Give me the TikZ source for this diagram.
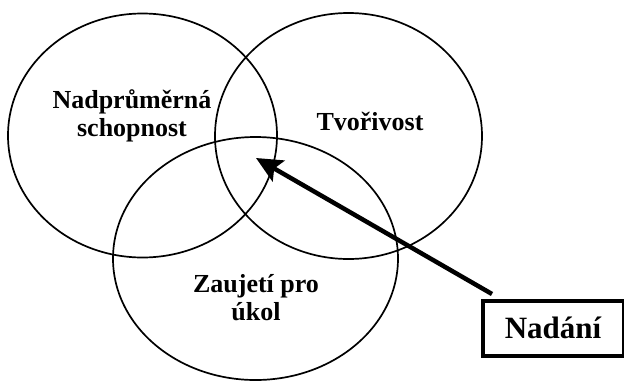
\documentclass[tikz,border=0pt]{standalone}
\usepackage{fontspec}
\setmainfont{Liberation Serif}
\usetikzlibrary{arrows.meta}
\begin{document}
\begin{tikzpicture}[x=1pt,y=-1pt,
  ring/.style={line width=1.7pt},
  lbl/.style={font=\fontsize{26}{28}\selectfont\bfseries, align=center, inner sep=0pt},
  boxlbl/.style={draw, line width=4pt, font=\fontsize{31}{34}\selectfont\bfseries, minimum width=141pt, minimum height=55pt, inner sep=0pt},
  bigarrow/.style={line width=4.5pt, -{Stealth[length=26pt,width=24pt,inset=5pt]}}]
\useasboundingbox (0,0) rectangle (624,381);
\draw[ring] (142.5,135.5) ellipse [x radius=134.5, y radius=122];
\draw[ring] (348.5,136) ellipse [x radius=133.5, y radius=123];
\draw[ring] (255.5,258.5) ellipse [x radius=142.5, y radius=121.5];
\node[lbl] (abil) at (132,116) {Nadprůměrná\\schopnost};
\node[lbl, anchor=base] (crea) at (370,130) {Tvořivost};
\node[lbl] (task) at (256,298) {Zaujetí pro\\úkol};
\node[boxlbl] (gift) at (553,328) {Nadání};
\coordinate (tail) at (492,294);
\coordinate (tip) at (256,158);
\draw[bigarrow] (tail) -- (tip);
\end{tikzpicture}
\end{document}
